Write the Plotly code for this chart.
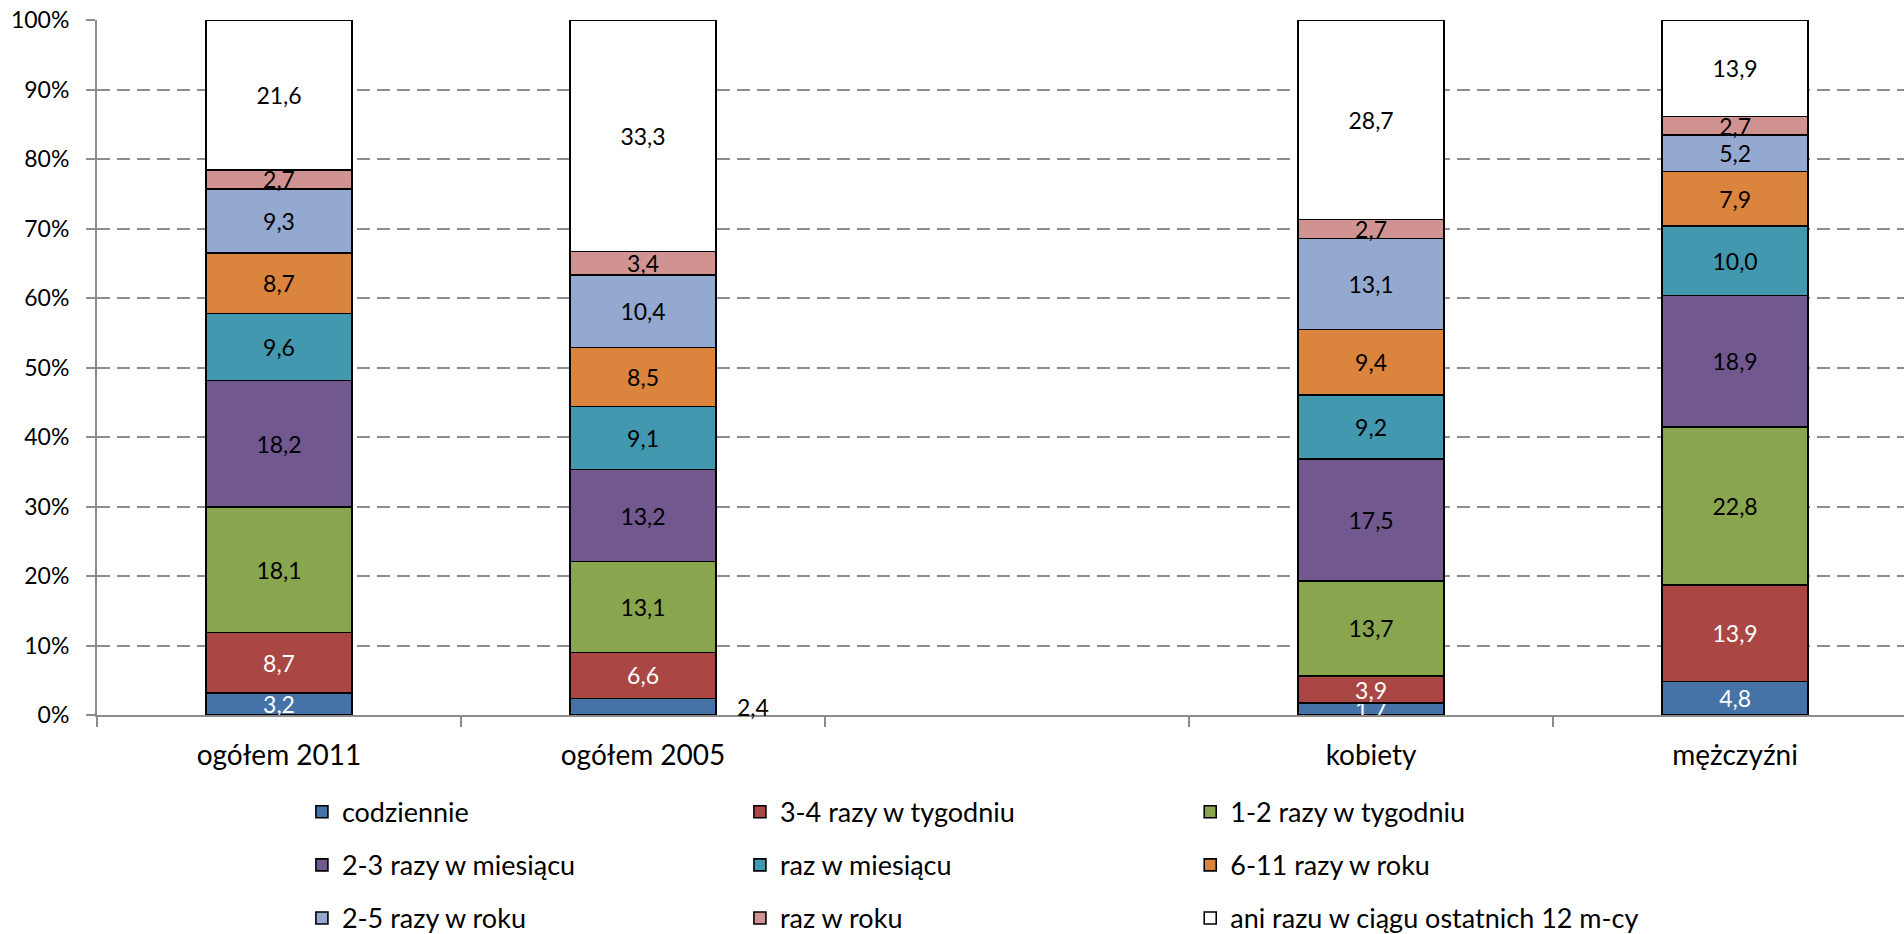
import plotly.graph_objects as go

categories = ["ogółem 2011", "ogółem 2005", " ", "kobiety", "mężczyźni"]

series_names = [
    "codziennie",
    "3-4 razy w tygodniu",
    "1-2 razy w tygodniu",
    "2-3 razy w miesiącu",
    "raz w miesiącu",
    "6-11 razy w roku",
    "2-5 razy w roku",
    "raz w roku",
    "ani razu w ciągu ostatnich 12 m-cy",
]

codziennie = [3.2, 2.4, None, 1.7, 4.8]
razy_3_4_tydz = [8.7, 6.6, None, 3.9, 13.9]
razy_1_2_tydz = [18.1, 13.1, None, 13.7, 22.8]
razy_2_3_mies = [18.2, 13.2, None, 17.5, 18.9]
raz_mies = [9.6, 9.1, None, 9.2, 10.0]
razy_6_11_rok = [8.7, 8.5, None, 9.4, 7.9]
razy_2_5_rok = [9.3, 10.4, None, 13.1, 5.2]
raz_rok = [2.7, 3.4, None, 2.7, 2.7]
ani_razu = [21.6, 33.3, None, 28.7, 13.9]

series_values = [codziennie, razy_3_4_tydz, razy_1_2_tydz, razy_2_3_mies, raz_mies,
                 razy_6_11_rok, razy_2_5_rok, raz_rok, ani_razu]

colors = ["#4572A7", "#AA4643", "#89A54E", "#71588F", "#4198AF",
          "#DB843D", "#93A9CF", "#D19392", "#FFFFFF"]
text_colors = ["white", "white"] + ["black"] * 7
legend_ids = ["legend", "legend2", "legend3"]

FONT = "Lato, 'Open Sans', sans-serif"


def fmt(v):
    return "" if v is None else f"{v:.1f}".replace(".", ",")


fig = go.Figure()
for i, (name, vals) in enumerate(zip(series_names, series_values)):
    texts = [fmt(v) for v in vals]
    # label of "codziennie" in "ogółem 2005" is moved outside the bar (annotation)
    if i == 0:
        texts[1] = ""
    fig.add_trace(go.Bar(
        x=categories, y=vals, name=name,
        marker=dict(color=colors[i], line=dict(color="black", width=1.6)),
        width=0.4,
        text=texts, textposition="inside", insidetextanchor="middle",
        textangle=0,
        textfont=dict(family=FONT, size=23, color=text_colors[i]),
        legend=legend_ids[i % 3],
        legendgroup=name,
        hoverinfo="skip",
    ))

fig.add_annotation(
    x=categories[1], y=codziennie[1] / 2, xref="x", yref="y",
    text=fmt(codziennie[1]), showarrow=False, xshift=110,
    font=dict(family=FONT, size=23, color="black"),
)

leg_common = dict(orientation="v", xanchor="left", yanchor="top", y=-0.1046,
                  font=dict(family=FONT, size=27, color="black"),
                  bgcolor="rgba(0,0,0,0)", traceorder="grouped",
                  tracegroupgap=15, itemwidth=30)

fig.update_layout(
    width=1904, height=934,
    barmode="stack", barnorm="percent",
    paper_bgcolor="white", plot_bgcolor="white",
    margin=dict(l=97, r=0, t=20, b=219, autoexpand=False),
    font=dict(family=FONT, size=23, color="black"),
    uniformtext=dict(mode="show", minsize=23),
    legend=dict(x=0.1134, **leg_common),
    legend2=dict(x=0.3558, **leg_common),
    legend3=dict(x=0.6050, **leg_common),
    xaxis=dict(
        type="category", categoryorder="array", categoryarray=categories,
        range=[-0.5, 4.464],
        tickson="boundaries", ticks="outside", ticklen=10, tickwidth=1.5,
        tickcolor="#8c8c8c",
        showline=True, linecolor="#8c8c8c", linewidth=2,
        showgrid=False, zeroline=False,
        tickfont=dict(family=FONT, size=28, color="black"),
        ticklabelstandoff=14,
    ),
    yaxis=dict(
        range=[0, 100], dtick=10, ticksuffix="%",
        ticks="outside", ticklen=9, tickwidth=1.5, tickcolor="#8c8c8c",
        showline=True, linecolor="#8c8c8c", linewidth=2,
        showgrid=True, gridcolor="#8c8c8c", gridwidth=1.5, griddash="13px,7px",
        zeroline=False,
        tickfont=dict(family=FONT, size=23, color="black"),
        ticklabelstandoff=12,
    ),
)

fig.write_html(
    "out.html",
    config={"displayModeBar": False},
    post_script="document.body.style.margin='0';document.body.style.overflow='hidden';",
)
